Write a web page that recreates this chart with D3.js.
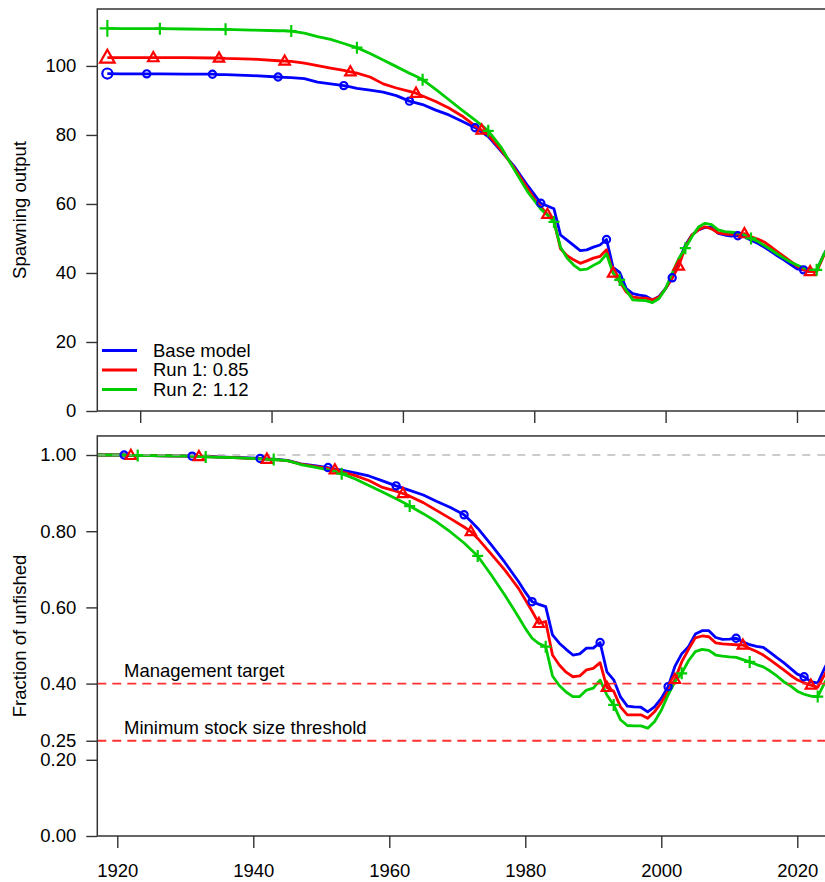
<!DOCTYPE html>
<html>
<head>
<meta charset="utf-8">
<script src="https://cdn.jsdelivr.net/npm/d3@7/dist/d3.min.js"></script>
<style>
  body { margin: 0; background: #fff; }
  svg { display: block; }
  text { font-family: "Liberation Sans", Arial, sans-serif; fill: #000; }
</style>
</head>
<body>
<svg id="chart" width="825" height="882"></svg>
<script>
// ---- data ----
// shared year grid (annual from 1981 on)
const years = [1917, 1921, 1922, 1923, 1927, 1931, 1932, 1933, 1937, 1941, 1942, 1943, 1945, 1947, 1949,
  1951, 1952, 1953, 1955, 1957, 1959, 1961, 1962, 1963, 1965, 1967, 1969, 1971, 1972, 1973, 1975,
  1977, 1979, 1980].concat(d3.range(1981, 2026));
const virginYear = 1915;

// spawning output, first value is the virgin (1915) point
const ssbBase = [97.8,
  97.7, 97.7, 97.7, 97.7, 97.6, 97.6, 97.5, 97.5, 97.2, 96.8, 96.7, 96.6, 96.3, 95.3, 94.8,
  94.3, 93.9, 93.5, 93.0, 92.4, 91.4, 89.8, 89.3, 88.8, 87.2, 85.8, 84.0, 82.1, 80.8, 79.5, 75.2,
  70.8, 65.3, 62.8,
  60.2, 59.4, 58.6, 51.0, 49.5, 48.0, 46.5, 46.7, 47.5, 48.1, 49.7, 41.6, 40.2, 35.5, 34.0, 33.6,
  33.3, 32.2, 33.2, 35.5, 38.6, 43.5, 48.0, 51.0, 52.5, 53.2, 53.2, 51.5, 51.0, 50.7, 50.8, 50.5,
  49.5, 48.6, 47.5, 46.3, 45.0, 43.8, 42.5, 41.2, 40.9, 40.4, 40.8, 45.0, 48.5];
const ssbRun1 = [102.4,
  102.4, 102.4, 102.4, 102.4, 102.4, 102.3, 102.3, 102.2, 102.0, 101.5, 101.4, 101.3, 100.8, 100.1, 99.4,
  98.7, 98.3, 97.9, 96.8, 94.8, 93.6, 92.6, 92.1, 91.3, 89.7, 87.8, 85.5, 82.6, 81.4, 80.0, 75.5,
  70.3, 64.5, 61.5,
  59.2, 57.0, 55.0, 47.0, 45.0, 43.8, 42.8, 43.5, 44.3, 44.8, 46.7, 40.0, 37.5, 34.5, 33.0, 32.8,
  32.7, 32.2, 33.0, 35.5, 38.5, 42.0, 47.5, 51.0, 52.5, 53.4, 52.8, 51.6, 51.3, 51.2, 51.3, 51.4,
  50.5, 49.8, 49.0, 47.6, 46.2, 44.8, 43.4, 42.0, 40.9, 40.4, 40.4, 44.7, 48.3];
const ssbRun2 = [110.9,
  110.8, 110.8, 110.8, 110.8, 110.7, 110.6, 110.6, 110.6, 110.4, 110.2, 110.2, 110.1, 109.5, 108.5, 107.7,
  106.5, 105.9, 105.3, 103.6, 101.7, 99.8, 97.9, 97.0, 96.0, 93.2, 90.2, 87.2, 84.3, 82.8, 81.2, 76.3,
  69.8, 63.5, 61.0,
  58.5, 56.8, 54.8, 47.5, 44.3, 42.3, 40.9, 41.1, 42.2, 43.2, 45.5, 40.0, 38.0, 35.0, 32.2, 32.1,
  32.0, 31.4, 32.6, 35.5, 40.0, 44.2, 47.2, 50.5, 53.3, 54.4, 54.0, 52.5, 52.0, 51.8, 51.6, 51.0,
  50.0, 49.2, 48.0, 46.8, 45.5, 44.3, 43.2, 42.3, 41.5, 41.0, 40.9, 45.0, 48.5];

// fraction of unfished
const fracBase = [1.000, 1.000, 0.999, 0.999, 0.998, 0.997, 0.996, 0.996, 0.994, 0.991, 0.990, 0.989, 0.986, 0.977, 0.972,
  0.967, 0.963, 0.960, 0.953, 0.945, 0.932, 0.919, 0.913, 0.907, 0.895, 0.878, 0.862, 0.843, 0.826, 0.808, 0.764,
  0.718, 0.668, 0.640,
  0.615, 0.608, 0.602, 0.528, 0.506, 0.490, 0.475, 0.478, 0.493, 0.493, 0.508, 0.431, 0.410, 0.365, 0.341, 0.339,
  0.338, 0.326, 0.339, 0.361, 0.392, 0.445, 0.478, 0.497, 0.530, 0.539, 0.539, 0.521, 0.516, 0.517, 0.519, 0.510,
  0.502, 0.498, 0.495, 0.482, 0.468, 0.455, 0.440, 0.425, 0.418, 0.405, 0.401, 0.440, 0.475];
const fracRun1 = [1.000, 1.000, 0.999, 0.999, 0.998, 0.997, 0.996, 0.996, 0.993, 0.990, 0.989, 0.988, 0.985, 0.976, 0.970,
  0.965, 0.961, 0.956, 0.946, 0.933, 0.915, 0.905, 0.899, 0.892, 0.875, 0.854, 0.833, 0.811, 0.799, 0.781, 0.740,
  0.698, 0.650, 0.620,
  0.590, 0.558, 0.563, 0.475, 0.449, 0.430, 0.418, 0.420, 0.436, 0.440, 0.455, 0.390, 0.380, 0.339, 0.318, 0.318,
  0.318, 0.309, 0.326, 0.350, 0.380, 0.411, 0.457, 0.490, 0.520, 0.525, 0.523, 0.507, 0.504, 0.503, 0.502, 0.501,
  0.492, 0.484, 0.475, 0.462, 0.449, 0.436, 0.422, 0.410, 0.402, 0.396, 0.390, 0.423, 0.458];
const fracRun2 = [1.000, 1.000, 0.999, 0.999, 0.998, 0.997, 0.996, 0.995, 0.993, 0.990, 0.989, 0.988, 0.985, 0.975, 0.968,
  0.961, 0.957, 0.951, 0.937, 0.920, 0.903, 0.885, 0.876, 0.866, 0.846, 0.824, 0.798, 0.769, 0.752, 0.735, 0.685,
  0.632, 0.575, 0.545,
  0.519, 0.505, 0.497, 0.420, 0.395, 0.378, 0.366, 0.366, 0.383, 0.388, 0.409, 0.370, 0.344, 0.305, 0.290, 0.289,
  0.289, 0.283, 0.300, 0.330, 0.370, 0.405, 0.427, 0.460, 0.484, 0.490, 0.487, 0.475, 0.472, 0.470, 0.469, 0.463,
  0.457, 0.450, 0.444, 0.433, 0.420, 0.405, 0.394, 0.380, 0.372, 0.367, 0.366, 0.401, 0.435];

const seriesNames = ['Base model', 'Run 1: 0.85', 'Run 2: 1.12'];
const seriesColors = ['#0000ff', '#ff0000', '#00cd00'];
const seriesShapes = ['circle', 'triangle', 'plus'];
const markerOffset = [1, 2, 3];   // markers every 10 yrs, staggered

const topTicks = [0, 20, 40, 60, 80, 100];
const fracTicks = [0, 0.2, 0.25, 0.4, 0.6, 0.8, 1.0];
const yearTicks = [1920, 1940, 1960, 1980, 2000, 2020];
const refLines = [
  { value: 0.4, label: 'Management target' },
  { value: 0.25, label: 'Minimum stock size threshold' }
];

// ---- layout ----
const svg = d3.select('#chart');
const left = 97.3, right = 840;
const fs = 18.5;

function markerPath(shape, s) {
  if (shape === 'triangle') {
    return 'M0,' + (-5.6 * s) + 'L' + (5.2 * s) + ',' + (3.6 * s) + 'L' + (-5.2 * s) + ',' + (3.6 * s) + 'Z';
  }
  return 'M' + (-5.5 * s) + ',0H' + (5.5 * s) + 'M0,' + (-6 * s) + 'V' + (6 * s);
}

function drawMarker(g, shape, color, cx, cy, s) {
  if (shape === 'circle') {
    g.append('circle').attr('cx', cx).attr('cy', cy).attr('r', 3.6 * s)
      .attr('fill', 'none').attr('stroke', color).attr('stroke-width', 2.2);
  } else {
    g.append('path').attr('transform', 'translate(' + cx + ',' + cy + ')')
      .attr('d', markerPath(shape, s))
      .attr('fill', 'none').attr('stroke', color).attr('stroke-width', 2.2)
      .attr('stroke-linejoin', 'miter');
  }
}

function panel(cfg) {
  const g = svg.append('g');
  const x = d3.scaleLinear().domain(cfg.xDomain).range([left, right]);
  const y = d3.scaleLinear().domain(cfg.yDomain).range([cfg.bottom, cfg.top]);

  const clipId = 'clip' + cfg.id;
  svg.append('clipPath').attr('id', clipId)
    .append('rect').attr('x', left).attr('y', cfg.top)
    .attr('width', right - left).attr('height', cfg.bottom - cfg.top);

  // y axis
  const ya = g.append('g').attr('transform', 'translate(' + left + ',0)')
    .call(d3.axisLeft(y).tickValues(cfg.yTicks).tickSize(11).tickPadding(10).tickFormat(cfg.yFormat));
  // x axis
  const xa = g.append('g').attr('transform', 'translate(0,' + cfg.bottom + ')')
    .call(d3.axisBottom(x).tickValues(yearTicks).tickSize(12).tickPadding(15.5)
      .tickFormat(cfg.xLabels ? d3.format('d') : ''));
  [ya, xa].forEach(a => {
    a.select('.domain').remove();
    a.selectAll('line').attr('stroke', '#333').attr('stroke-width', 1.4);
    a.selectAll('text').attr('font-size', fs).attr('fill', '#000')
      .style('font-family', '"Liberation Sans", Arial, sans-serif');
  });

  // series
  const lines = g.append('g').attr('clip-path', 'url(#' + clipId + ')');
  const line = d3.line().x(d => x(d[0])).y(d => y(d[1]));
  cfg.series.forEach((vals, i) => {
    const pts = cfg.years.map((yr, k) => [yr, vals[k]]);
    lines.append('path').datum(pts).attr('d', line)
      .attr('fill', 'none').attr('stroke', seriesColors[i])
      .attr('stroke-width', 2.8).attr('stroke-linejoin', 'round');
  });

  if (cfg.after) cfg.after(g, x, y);

  const marks = g.append('g');
  cfg.series.forEach((vals, i) => {
    cfg.years.forEach((yr, k) => {
      if (yr === virginYear) {
        drawMarker(marks, seriesShapes[i], seriesColors[i], x(yr), y(vals[k]), 1.4);
      } else if (yr % 10 === markerOffset[i] && x(yr) < 830) {
        drawMarker(marks, seriesShapes[i], seriesColors[i], x(yr), y(vals[k]), 1);
      }
    });
  });

  // box
  g.append('rect').attr('x', left).attr('y', cfg.top)
    .attr('width', right - left).attr('height', cfg.bottom - cfg.top)
    .attr('fill', 'none').attr('stroke', '#333').attr('stroke-width', 1.5);

  // y title
  g.append('text')
    .attr('transform', 'translate(26,' + ((cfg.top + cfg.bottom) / 2) + ') rotate(-90)')
    .attr('text-anchor', 'middle').attr('font-size', fs)
    .text(cfg.yTitle);
  return { x, y, g };
}

// top: spawning output
const topPanel = panel({
  id: 'top', top: 9, bottom: 411,
  xDomain: [1913.47, 2026.55], yDomain: [0, 116.5],
  yTicks: topTicks, yFormat: d3.format('d'), xLabels: false,
  years: [virginYear].concat(years),
  series: [ssbBase, ssbRun1, ssbRun2],
  yTitle: 'Spawning output'
});

// legend
const leg = topPanel.g.append('g');
seriesNames.forEach((name, i) => {
  const ly = 350.5 + i * 19.5;
  leg.append('line').attr('x1', 102).attr('x2', 137).attr('y1', ly).attr('y2', ly)
    .attr('stroke', seriesColors[i]).attr('stroke-width', 3);
  leg.append('text').attr('x', 153).attr('y', ly).attr('dy', '0.35em')
    .attr('font-size', fs).text(name);
});

// bottom: fraction of unfished
panel({
  id: 'bot', top: 435.95, bottom: 836,
  xDomain: [1917.06, 2026.28], yDomain: [0, 1.05],
  yTicks: fracTicks, yFormat: d3.format('.2f'), xLabels: true,
  years: years,
  series: [fracBase, fracRun1, fracRun2],
  yTitle: 'Fraction of unfished',
  after: (g, x, y) => {
    g.append('line').attr('x1', left).attr('x2', right).attr('y1', y(1)).attr('y2', y(1))
      .attr('stroke', '#aaaaaa').attr('stroke-opacity', 0.6).attr('stroke-width', 2)
      .attr('stroke-dasharray', '8,7');
    refLines.forEach(r => {
      g.append('line').attr('x1', left).attr('x2', right).attr('y1', y(r.value)).attr('y2', y(r.value))
        .attr('stroke', '#ff3030').attr('stroke-width', 1.8).attr('stroke-dasharray', '9,6');
      g.append('text').attr('x', 124).attr('y', y(r.value) - 6.5)
        .attr('font-size', fs).text(r.label);
    });
  }
});
</script>
</body>
</html>
